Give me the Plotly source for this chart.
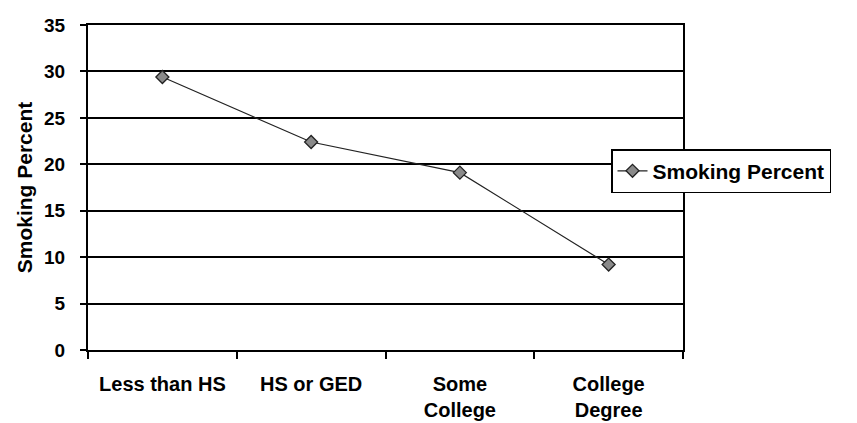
import plotly.graph_objects as go

categories = ["Less than HS", "HS or GED", "Some College", "College Degree"]
tick_text = ["Less than HS", "HS or GED", "Some<br>College", "College<br>Degree"]
smoking_percent = [29.4, 22.4, 19.1, 9.2]
y_ticks = [0, 5, 10, 15, 20, 25, 30, 35]

FONT = "Liberation Sans, Arial, sans-serif"

fig = go.Figure()
fig.add_trace(go.Scatter(
    x=categories,
    y=smoking_percent,
    mode="lines+markers",
    name="Smoking Percent",
    line=dict(color="#222222", width=1.2),
    marker=dict(symbol="diamond", size=10, color="#8a8a8a",
                line=dict(color="#222222", width=1.3)),
))

fig.update_layout(
    width=857, height=423,
    margin=dict(l=88, r=174, t=25, b=73),
    paper_bgcolor="white", plot_bgcolor="white",
    font=dict(family=FONT, size=18, color="black"),
    showlegend=True,
    legend=dict(
        x=0.879, y=0.618, xanchor="left", yanchor="top",
        bgcolor="white", bordercolor="black", borderwidth=1.5,
        font=dict(family=FONT, size=21, color="black", weight="bold"),
        itemwidth=30, tracegroupgap=0,
    ),
)

fig.update_xaxes(
    type="category",
    categoryorder="array", categoryarray=categories,
    tickvals=categories, ticktext=tick_text,
    range=[-0.5, 3.5],
    tickson="boundaries",
    ticks="outside", ticklen=7, tickcolor="black", tickwidth=2,
    ticklabelstandoff=15,
    showline=True, linecolor="black", linewidth=2, mirror=True,
    showgrid=False, zeroline=False,
    automargin=False,
    tickfont=dict(family=FONT, size=20, color="black", weight="bold"),
)

fig.update_yaxes(
    range=[0, 35],
    tickvals=y_ticks,
    ticks="outside", ticklen=6, tickcolor="black", tickwidth=2,
    ticklabelstandoff=11,
    showline=True, linecolor="black", linewidth=2, mirror=True,
    showgrid=True, gridcolor="black", gridwidth=2,
    zeroline=False,
    automargin=False,
    tickfont=dict(family=FONT, size=19, color="black", weight="bold"),
    title=dict(text="Smoking Percent", standoff=6,
               font=dict(family=FONT, size=21, color="black", weight="bold")),
)

fig.write_html("out.html")
